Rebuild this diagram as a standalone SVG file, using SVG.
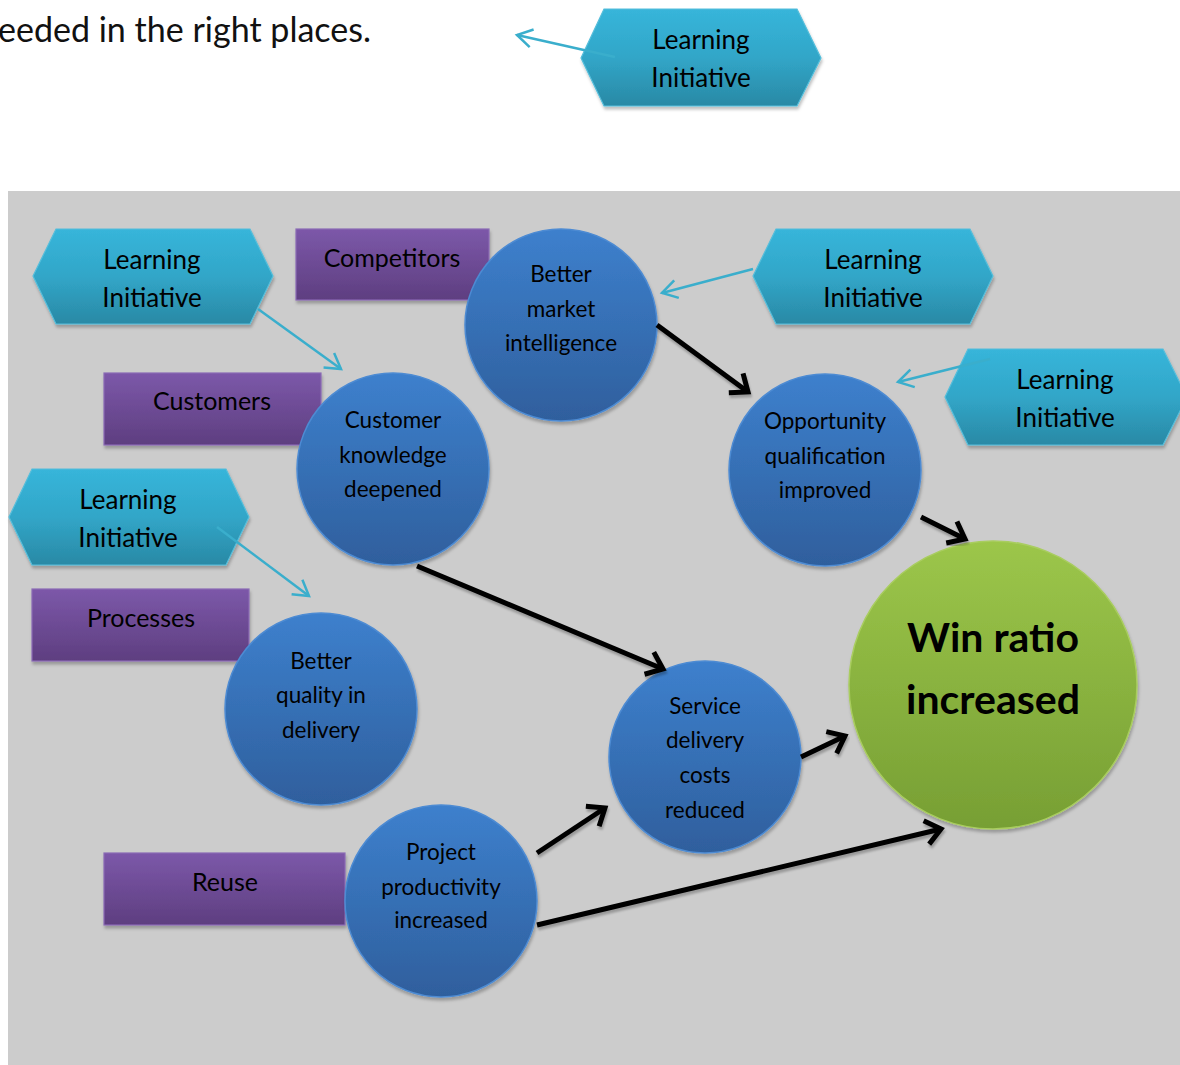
<svg xmlns="http://www.w3.org/2000/svg" width="1180" height="1065" viewBox="0 0 1180 1065">
  <defs>
    <style>
      .t { font-family: Lato, "Open Sans", "Liberation Sans", sans-serif; fill: #000; text-anchor: middle; }
      .hex-t { font-size: 26px; }
      .box-t { font-size: 25px; }
      .node-t { font-size: 22.5px; }
      .win-t { font-size: 41px; font-weight: bold; }
      .hex { fill: url(#gHex); stroke: #55bedb; stroke-width: 1.2; filter: url(#shadow); }
      .box { fill: url(#gBox); stroke: #8a6ab5; stroke-width: 1.2; filter: url(#shadow); }
      .node { fill: url(#gNode); stroke: #4d8bd3; stroke-width: 1.5; filter: url(#shadow); }
      .win { fill: url(#gWin); stroke: #a9cd5f; stroke-width: 1.5; filter: url(#shadow); }
      .flow { stroke: #000; stroke-width: 5; fill: none; marker-end: url(#head); filter: url(#lineShadow); }
      .link { stroke: #3aaecc; stroke-width: 2.5; fill: none; marker-end: url(#headCyan); }
    </style>
    <linearGradient id="gHex" x1="0" y1="0" x2="0" y2="1">
      <stop offset="0" stop-color="#37b5da"/>
      <stop offset="0.5" stop-color="#31a6c8"/>
      <stop offset="1" stop-color="#2a89a5"/>
    </linearGradient>
    <linearGradient id="gBox" x1="0" y1="0" x2="0" y2="1">
      <stop offset="0" stop-color="#7c58a9"/>
      <stop offset="1" stop-color="#5e3e80"/>
    </linearGradient>
    <linearGradient id="gNode" x1="0" y1="0" x2="0" y2="1">
      <stop offset="0" stop-color="#3d80cd"/>
      <stop offset="1" stop-color="#2f5f9d"/>
    </linearGradient>
    <linearGradient id="gWin" x1="0" y1="0" x2="0" y2="1">
      <stop offset="0" stop-color="#9cc64a"/>
      <stop offset="1" stop-color="#779f34"/>
    </linearGradient>
    <filter id="shadow" x="-10%" y="-10%" width="120%" height="125%">
      <feDropShadow dx="1" dy="3" stdDeviation="1.5" flood-color="#000" flood-opacity="0.25"/>
    </filter>
    <filter id="lineShadow" x="-10%" y="-30%" width="120%" height="160%">
      <feDropShadow dx="1" dy="3" stdDeviation="1" flood-color="#000" flood-opacity="0.25"/>
    </filter>
    <marker id="head" markerUnits="userSpaceOnUse" markerWidth="40" markerHeight="40" viewBox="-20 -20 40 40" refX="0" refY="0" orient="auto" overflow="visible">
      <path d="M-15,-12 L0,0 L-15,12" fill="none" stroke="#000" stroke-width="5"/>
    </marker>
    <marker id="headCyan" markerUnits="userSpaceOnUse" markerWidth="40" markerHeight="40" viewBox="-20 -20 40 40" refX="0" refY="0" orient="auto" overflow="visible">
      <path d="M-15,-9 L0,0 L-15,9" fill="none" stroke="#3aaecc" stroke-width="2.5"/>
    </marker>
  </defs>

  <rect width="1180" height="1065" fill="#ffffff"/>

  <!-- running text line above the chart -->
  <text x="-2" y="42" font-family="Lato, 'Open Sans', 'Liberation Sans', sans-serif" font-size="34" fill="#111" textLength="373" lengthAdjust="spacingAndGlyphs">eeded in the right places.</text>

  <!-- legend symbol -->
  <g id="legend-initiative">
    <polygon class="hex" points="581,58 604,9 797,9 821,58 797,106 604,106"/>
    <text class="t hex-t" x="701" y="49">Learning</text>
    <text class="t hex-t" x="701" y="87">Initiative</text>
  </g>
  <line class="link" x1="615" y1="57" x2="517" y2="35"/>

  <!-- chart background -->
  <rect x="8" y="191" width="1172" height="874" fill="#cccccc"/>

  <g id="init-customers">
    <polygon class="hex" points="33,276 56,229 250,229 273,276 250,324 56,324"/>
    <text class="t hex-t" x="152" y="269">Learning</text>
    <text class="t hex-t" x="152" y="307">Initiative</text>
  </g>
  <g id="init-market">
    <polygon class="hex" points="753,276 776,229 970,229 993,276 970,324 776,324"/>
    <text class="t hex-t" x="873" y="269">Learning</text>
    <text class="t hex-t" x="873" y="307">Initiative</text>
  </g>
  <g id="init-opportunity">
    <polygon class="hex" points="945,397 968,349 1163,349 1187,397 1163,445 968,445"/>
    <text class="t hex-t" x="1065" y="389">Learning</text>
    <text class="t hex-t" x="1065" y="427">Initiative</text>
  </g>
  <g id="init-quality">
    <polygon class="hex" points="9,517 32,469 226,469 249,517 226,565 32,565"/>
    <text class="t hex-t" x="128" y="509">Learning</text>
    <text class="t hex-t" x="128" y="547">Initiative</text>
  </g>

  <g id="src-competitors">
    <rect class="box" x="296" y="229" width="193" height="71"/>
    <text class="t box-t" x="392" y="267">Competitors</text>
  </g>
  <g id="src-customers">
    <rect class="box" x="104" y="373" width="217" height="72"/>
    <text class="t box-t" x="212" y="410">Customers</text>
  </g>
  <g id="src-processes">
    <rect class="box" x="32" y="589" width="217" height="72"/>
    <text class="t box-t" x="141" y="627">Processes</text>
  </g>
  <g id="src-reuse">
    <rect class="box" x="104" y="853" width="241" height="72"/>
    <text class="t box-t" x="225" y="891">Reuse</text>
  </g>

  <g id="market-intelligence">
    <circle class="node" cx="561" cy="325" r="96"/>
    <text class="t node-t" x="561" y="282">Better</text>
    <text class="t node-t" x="561" y="317">market</text>
    <text class="t node-t" x="561" y="351">intelligence</text>
  </g>
  <g id="customer-knowledge">
    <circle class="node" cx="393" cy="469" r="96"/>
    <text class="t node-t" x="393" y="428">Customer</text>
    <text class="t node-t" x="393" y="462.5">knowledge</text>
    <text class="t node-t" x="393" y="497">deepened</text>
  </g>
  <g id="opportunity-qualification">
    <circle class="node" cx="825" cy="470" r="96"/>
    <text class="t node-t" x="825" y="429">Opportunity</text>
    <text class="t node-t" x="825" y="464">qualification</text>
    <text class="t node-t" x="825" y="498">improved</text>
  </g>
  <g id="delivery-quality">
    <circle class="node" cx="321" cy="709" r="96"/>
    <text class="t node-t" x="321" y="669">Better</text>
    <text class="t node-t" x="321" y="703">quality in</text>
    <text class="t node-t" x="321" y="738">delivery</text>
  </g>
  <g id="delivery-costs">
    <circle class="node" cx="705" cy="757" r="96"/>
    <text class="t node-t" x="705" y="714">Service</text>
    <text class="t node-t" x="705" y="748">delivery</text>
    <text class="t node-t" x="705" y="783">costs</text>
    <text class="t node-t" x="705" y="818">reduced</text>
  </g>
  <g id="project-productivity">
    <circle class="node" cx="441" cy="901" r="96"/>
    <text class="t node-t" x="441" y="860">Project</text>
    <text class="t node-t" x="441" y="895">productivity</text>
    <text class="t node-t" x="441" y="928">increased</text>
  </g>
  <g id="win-ratio">
    <circle class="win" cx="993" cy="685" r="144"/>
    <text class="t win-t" x="993" y="652">Win ratio</text>
    <text class="t win-t" x="993" y="714">increased</text>
  </g>

  <g id="connectors">
    <line class="link" x1="258" y1="309" x2="341" y2="369"/>
    <line class="link" x1="753" y1="269" x2="662" y2="293"/>
    <line class="link" x1="990" y1="359" x2="898" y2="382"/>
    <line class="link" x1="217" y1="527" x2="309" y2="596"/>

    <line class="flow" x1="657" y1="325" x2="748" y2="392"/>
    <line class="flow" x1="489" y1="445" x2="726" y2="445"/>
    <line class="flow" x1="921" y1="517" x2="965" y2="539"/>
    <line class="flow" x1="417" y1="566" x2="663" y2="669"/>
    <line class="flow" x1="417" y1="757" x2="606" y2="757"/>
    <line class="flow" x1="537" y1="853" x2="605" y2="808"/>
    <line class="flow" x1="801" y1="757" x2="845" y2="736"/>
    <line class="flow" x1="537" y1="925" x2="941" y2="829"/>
  </g>
</svg>
